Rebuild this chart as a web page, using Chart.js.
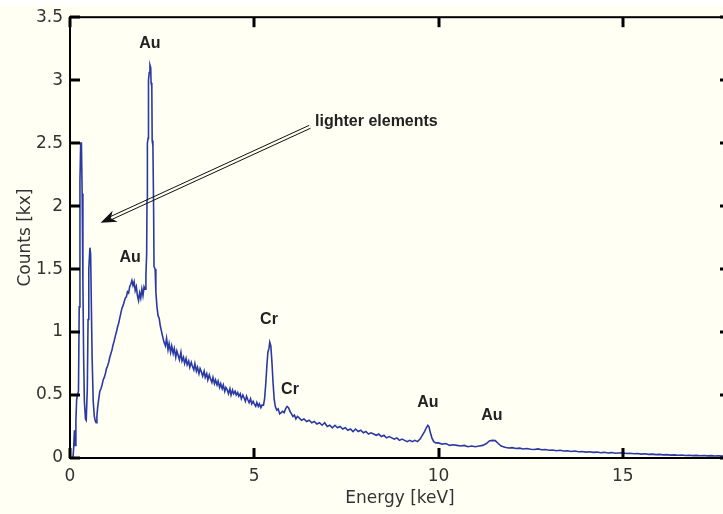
<!DOCTYPE html>
<html>
<head>
<meta charset="utf-8">
<script src="https://cdn.jsdelivr.net/npm/chart.js@4"></script>
<style>
  html, body { margin: 0; padding: 0; background: #fff; overflow: hidden; }
  #wrap { position: absolute; left: 0; top: 0; width: 740px; height: 514px; }
</style>
</head>
<body>
<div id="wrap"><canvas id="spectrum" width="740" height="514"></canvas></div>
<script>
// EDX spectrum, energy in keV, counts in kx
const energy = [
  0.08, 0.10, 0.12, 0.14, 0.16, 0.18, 0.20, 0.23, 0.25, 0.27, 0.29, 0.31, 0.33, 0.35, 0.37, 0.39,
  0.42, 0.44, 0.47, 0.49, 0.51, 0.54, 0.56, 0.58, 0.60, 0.63, 0.66, 0.69, 0.71, 0.73,
  0.75, 0.78, 0.81, 0.84, 0.87, 0.90, 0.93, 0.96, 0.99, 1.02, 1.05, 1.08, 1.11, 1.14, 1.17, 1.20,
  1.23, 1.26, 1.29, 1.32, 1.35, 1.38, 1.41, 1.44, 1.47, 1.50, 1.53, 1.56, 1.59, 1.62, 1.65, 1.68,
  1.71, 1.74, 1.77, 1.80, 1.83, 1.86, 1.89, 1.92, 1.95, 1.98, 2.01,
  2.04, 2.06, 2.08, 2.09, 2.10, 2.12, 2.13, 2.15, 2.17, 2.19, 2.20, 2.22, 2.23, 2.25, 2.27, 2.28,
  2.31, 2.33, 2.36, 2.39, 2.42, 2.45, 2.48, 2.51,
  2.55, 2.59, 2.62, 2.66, 2.69, 2.73, 2.76, 2.80, 2.83, 2.87, 2.90, 2.94, 2.97, 3.01, 3.04, 3.08,
  3.11, 3.15, 3.18, 3.22, 3.25, 3.29, 3.32, 3.36, 3.39, 3.43, 3.46, 3.50, 3.53, 3.57, 3.60, 3.64,
  3.67, 3.71, 3.74, 3.78, 3.81, 3.85, 3.88, 3.92, 3.95, 3.99, 4.02, 4.06, 4.09, 4.13, 4.16, 4.20,
  4.23, 4.27, 4.30, 4.34, 4.37, 4.41, 4.44, 4.48, 4.51, 4.55, 4.58, 4.62, 4.65, 4.69, 4.72, 4.76,
  4.79, 4.83, 4.86, 4.90, 4.93, 4.97, 5.00, 5.04, 5.07, 5.11, 5.14, 5.18, 5.21,
  5.25, 5.28, 5.31, 5.34, 5.37, 5.40, 5.42, 5.45, 5.48, 5.51, 5.54, 5.57, 5.61, 5.65, 5.69, 5.73,
  5.77, 5.81, 5.85, 5.89, 5.93, 5.97, 6.01, 6.05, 6.09, 6.13, 6.17,
  6.21, 6.28, 6.35, 6.42, 6.49, 6.56, 6.63, 6.70, 6.77, 6.84, 6.91, 6.98, 7.05, 7.12, 7.19, 7.26,
  7.33, 7.40, 7.47, 7.54, 7.61, 7.68, 7.75, 7.82, 7.89, 7.96, 8.03, 8.10, 8.17, 8.24, 8.31, 8.38,
  8.45, 8.52, 8.59, 8.66, 8.73, 8.80, 8.87, 8.94, 9.01, 9.08, 9.15, 9.22, 9.29, 9.36, 9.43,
  9.50, 9.56, 9.62, 9.67, 9.71, 9.74, 9.78, 9.82, 9.87, 9.93,
  10.0, 10.1, 10.2, 10.3, 10.4, 10.5, 10.6, 10.7, 10.8, 10.9, 11.0, 11.1, 11.2, 11.3,
  11.38, 11.46, 11.54, 11.62, 11.70, 11.8, 11.9, 12.0, 12.1, 12.2, 12.3, 12.4, 12.5, 12.6, 12.7,
  12.8, 12.9, 13.0, 13.1, 13.2, 13.3, 13.4, 13.5, 13.6, 13.7, 13.8, 13.9, 14.0, 14.1, 14.2, 14.3,
  14.4, 14.5, 14.6, 14.7, 14.8, 14.9, 15.0, 15.1, 15.2, 15.3, 15.4, 15.5, 15.6, 15.7, 15.8, 15.9,
  16.0, 16.1, 16.2, 16.3, 16.4, 16.5, 16.6, 16.7, 16.8, 16.9, 17.0, 17.1, 17.2, 17.3, 17.4, 17.5,
  17.6, 17.7, 17.8, 17.9
];
const counts = [
  0.00, 0.08, 0.22, 0.10, 0.30, 0.46, 0.50, 0.53, 1.20, 2.20, 2.50, 2.50, 2.10, 1.40, 0.80, 0.45,
  0.31, 0.30, 0.55, 1.10, 1.50, 1.67, 1.62, 1.20, 0.80, 0.45, 0.33, 0.29, 0.28, 0.33,
  0.40, 0.47, 0.53, 0.55, 0.58, 0.62, 0.64, 0.67, 0.71, 0.73, 0.76, 0.80, 0.83, 0.86, 0.90, 0.93,
  0.97, 1.00, 1.04, 1.07, 1.11, 1.15, 1.19, 1.21, 1.24, 1.27, 1.28, 1.32, 1.31, 1.36, 1.38, 1.41,
  1.37, 1.40, 1.33, 1.36, 1.29, 1.25, 1.31, 1.27, 1.34, 1.29, 1.36,
  1.34, 1.45, 1.62, 2.05, 2.50, 2.54, 3.00, 3.06, 3.12, 3.10, 2.98, 2.95, 2.52, 2.48, 1.95, 1.52,
  1.50, 1.32, 1.20, 1.13, 1.11, 1.05, 1.01, 0.97,
  0.92, 0.89, 0.95, 0.86, 0.91, 0.84, 0.89, 0.83, 0.87, 0.80, 0.85, 0.81, 0.78, 0.84, 0.77, 0.80,
  0.75, 0.79, 0.74, 0.77, 0.72, 0.76, 0.73, 0.70, 0.75, 0.69, 0.72, 0.67, 0.71, 0.68, 0.65, 0.69,
  0.64, 0.67, 0.62, 0.66, 0.63, 0.60, 0.64, 0.59, 0.62, 0.58, 0.61, 0.56, 0.59, 0.55, 0.58, 0.53,
  0.56, 0.54, 0.51, 0.55, 0.50, 0.54, 0.51, 0.53, 0.50, 0.52, 0.49, 0.51, 0.47, 0.50, 0.48, 0.45,
  0.49, 0.46, 0.44, 0.47, 0.43, 0.45, 0.43, 0.41, 0.44, 0.41, 0.43, 0.40, 0.42,
  0.42, 0.47, 0.58, 0.72, 0.84, 0.87, 0.92, 0.89, 0.76, 0.60, 0.47, 0.41, 0.38, 0.39, 0.35, 0.36,
  0.37, 0.36, 0.39, 0.41, 0.40, 0.37, 0.35, 0.33, 0.34, 0.31, 0.33,
  0.32, 0.30, 0.31, 0.29, 0.30, 0.28, 0.29, 0.27, 0.28, 0.26, 0.28, 0.25, 0.26, 0.24, 0.26, 0.24,
  0.25, 0.23, 0.24, 0.22, 0.23, 0.21, 0.23, 0.21, 0.22, 0.20, 0.21, 0.19, 0.20, 0.19, 0.18, 0.19,
  0.17, 0.18, 0.16, 0.17, 0.16, 0.15, 0.16, 0.14, 0.15, 0.14, 0.13, 0.14, 0.13, 0.14, 0.13,
  0.15, 0.18, 0.21, 0.24, 0.26, 0.25, 0.20, 0.16, 0.13, 0.12,
  0.12, 0.11, 0.115, 0.10, 0.105, 0.10, 0.095, 0.10, 0.09, 0.095, 0.09, 0.095, 0.10, 0.115,
  0.135, 0.14, 0.138, 0.115, 0.095, 0.085, 0.08, 0.082, 0.075, 0.078, 0.072, 0.075, 0.07, 0.068, 0.072,
  0.065, 0.067, 0.062, 0.064, 0.058, 0.061, 0.056, 0.058, 0.052, 0.055, 0.05, 0.052, 0.047, 0.05, 0.045, 0.047,
  0.042, 0.045, 0.04, 0.043, 0.038, 0.04, 0.042, 0.036, 0.038, 0.034, 0.036, 0.031, 0.034, 0.029, 0.031, 0.027,
  0.029, 0.025, 0.027, 0.023, 0.025, 0.022, 0.024, 0.02, 0.022, 0.019, 0.021, 0.018, 0.02, 0.017, 0.019, 0.016,
  0.018, 0.015, 0.016, 0.015
];

const xTicks = [0, 5, 10, 15];
const yTicks = [0, 0.5, 1, 1.5, 2, 2.5, 3, 3.5];

// peak labels (data coords)
const peakNames = ["Au", "Au", "Cr", "Cr", "Au", "Au"];
const peakLabelE = [2.17, 1.63, 5.40, 5.97, 9.71, 11.45];
const peakLabelC = [3.29, 1.59, 1.10, 0.54, 0.437, 0.333];

// arrow annotation (data coords)
const noteText = "lighter elements";
const noteAt = [6.65, 2.67];
const arrowFrom = [6.51, 2.63];
const arrowTo = [0.83, 1.867];

const tickFont = { family: "DejaVu Sans", size: 17 };

function drawArrow(ctx, x0, y0, x1, y1) {
  const ang = Math.atan2(y1 - y0, x1 - x0);
  const c = Math.cos(ang), s = Math.sin(ang);
  const nx = -s, ny = c;
  const head = 16, half = 6;
  const bx = x1 - c * head * 0.7, by = y1 - s * head * 0.7;
  ctx.lineWidth = 1;
  for (const off of [-1.6, 1.6]) {
    ctx.beginPath();
    ctx.moveTo(x0 + nx * off, y0 + ny * off);
    ctx.lineTo(bx + nx * off, by + ny * off);
    ctx.stroke();
  }
  ctx.beginPath();
  ctx.moveTo(x1, y1);
  ctx.lineTo(x1 - c * head + nx * half, y1 - s * head + ny * half);
  ctx.lineTo(bx, by);
  ctx.lineTo(x1 - c * head - nx * half, y1 - s * head - ny * half);
  ctx.closePath();
  ctx.fill();
}

function tickLine(ctx, x0, y0, x1, y1) {
  ctx.beginPath();
  ctx.moveTo(x0, y0);
  ctx.lineTo(x1, y1);
  ctx.stroke();
}

const decor = {
  id: "decor",
  beforeDraw(chart) {
    const ctx = chart.ctx;
    ctx.save();
    ctx.fillStyle = "#fffff3";
    ctx.fillRect(0, 5, chart.width, chart.height - 5);
    ctx.restore();
  },
  afterDraw(chart) {
    const { ctx, chartArea: a, scales: { x, y } } = chart;
    ctx.save();
    ctx.strokeStyle = "#000";
    ctx.fillStyle = "#000";
    ctx.lineWidth = 2;
    ctx.strokeRect(a.left, a.top, a.right - a.left, a.bottom - a.top);

    /* inward ticks on all four sides (matlab style) */
    const len = 10;
    ctx.lineWidth = 3;
    xTicks.forEach(v => {
      const px = Math.round(x.getPixelForValue(v));
      tickLine(ctx, px, a.bottom, px, a.bottom - len);
      tickLine(ctx, px, a.top, px, a.top + len);
    });
    yTicks.forEach(v => {
      const py = Math.round(y.getPixelForValue(v));
      tickLine(ctx, a.left, py, a.left + len, py);
      tickLine(ctx, a.right, py, a.right - len, py);
    });

    ctx.strokeStyle = "#111";
    ctx.fillStyle = "#111";
    drawArrow(ctx,
      x.getPixelForValue(arrowFrom[0]), y.getPixelForValue(arrowFrom[1]),
      x.getPixelForValue(arrowTo[0]), y.getPixelForValue(arrowTo[1]));

    ctx.font = "bold 16px 'Liberation Sans', Arial, sans-serif";
    ctx.fillStyle = "#222";
    ctx.textBaseline = "middle";
    ctx.textAlign = "center";
    peakNames.forEach((t, i) => {
      ctx.fillText(t, x.getPixelForValue(peakLabelE[i]), y.getPixelForValue(peakLabelC[i]));
    });
    ctx.textAlign = "left";
    ctx.fillText(noteText, x.getPixelForValue(noteAt[0]), y.getPixelForValue(noteAt[1]));
    ctx.restore();
  }
};

const ctx = document.getElementById("spectrum").getContext("2d");

new Chart(ctx, {
  type: "line",
  data: {
    datasets: [{
      data: energy.map((e, i) => ({ x: e, y: counts[i] })),
      borderColor: "#2a39a3",
      borderWidth: 1.6,
      pointRadius: 0,
      tension: 0,
      fill: false
    }]
  },
  options: {
    responsive: false,
    animation: false,
    devicePixelRatio: 1,
    layout: { padding: { top: 16, right: 10, left: 0, bottom: 0 } },
    plugins: {
      legend: { display: false },
      tooltip: { enabled: false }
    },
    scales: {
      x: {
        type: "linear",
        min: 0,
        max: 17.91,
        afterBuildTicks: s => { s.ticks = xTicks.map(v => ({ value: v })); },
        afterFit: s => { s.height = 56; },
        grid: { display: false, drawTicks: false },
        border: { display: false },
        ticks: { font: tickFont, color: "#333", padding: 8, maxRotation: 0, callback: v => String(v) },
        title: {
          display: true,
          text: "Energy [keV]",
          font: tickFont,
          color: "#333",
          padding: { top: 0, bottom: 5 }
        }
      },
      y: {
        type: "linear",
        min: 0,
        max: 3.5,
        afterBuildTicks: s => { s.ticks = yTicks.map(v => ({ value: v })); },
        afterFit: s => { s.width = 70; },
        grid: { display: false, drawTicks: false },
        border: { display: false },
        ticks: { font: tickFont, color: "#333", padding: 7, callback: v => String(v) },
        title: {
          display: true,
          text: "Counts [kx]",
          font: tickFont,
          color: "#333",
          padding: { top: 15, bottom: 0 }
        }
      }
    }
  },
  plugins: [decor]
});
</script>
</body>
</html>
